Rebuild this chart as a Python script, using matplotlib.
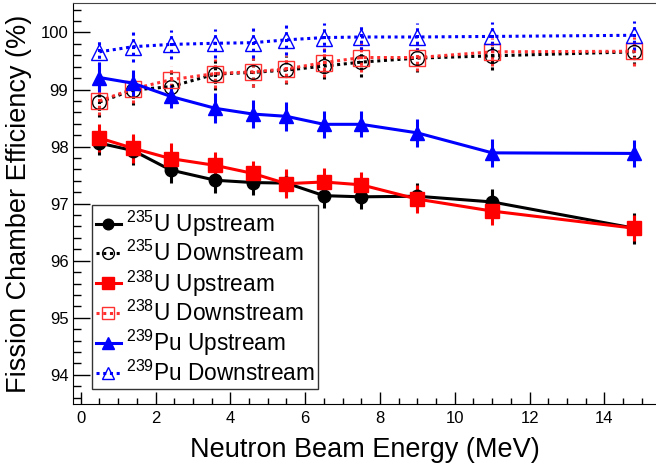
import numpy as np
import matplotlib
matplotlib.use('Agg')
import matplotlib.pyplot as plt
from matplotlib.ticker import MultipleLocator
from matplotlib.lines import Line2D

plt.rcParams['font.family'] = ['Liberation Sans', 'DejaVu Sans']
plt.rcParams['mathtext.default'] = 'regular'

# beam energies (MeV)
energy = [0.5, 1.4, 2.4, 3.6, 4.6, 5.5, 6.5, 7.5, 9.0, 11.0, 14.8]

# efficiencies (%) and errors
u235_up = [98.06, 97.93, 97.59, 97.41, 97.37, 97.36, 97.14, 97.12, 97.13, 97.03, 96.57]
u235_up_err = [0.20, 0.25, 0.23, 0.23, 0.22, 0.22, 0.22, 0.22, 0.24, 0.22, 0.27]
u235_dn = [98.78, 98.99, 99.05, 99.27, 99.30, 99.34, 99.41, 99.48, 99.55, 99.59, 99.66]
u235_dn_err = [0.27, 0.26, 0.25, 0.27, 0.25, 0.25, 0.23, 0.26, 0.25, 0.25, 0.23]
u238_up = [98.15, 97.97, 97.79, 97.67, 97.53, 97.35, 97.38, 97.33, 97.08, 96.87, 96.57]
u238_up_err = [0.25, 0.25, 0.28, 0.23, 0.22, 0.25, 0.24, 0.22, 0.25, 0.25, 0.23]
u238_dn = [98.80, 99.01, 99.17, 99.28, 99.31, 99.36, 99.47, 99.56, 99.56, 99.66, 99.67]
u238_dn_err = [0.25, 0.24, 0.24, 0.25, 0.26, 0.25, 0.25, 0.25, 0.24, 0.25, 0.25]
pu239_up = [99.21, 99.11, 98.88, 98.67, 98.57, 98.53, 98.39, 98.39, 98.24, 97.89, 97.88]
pu239_up_err = [0.25, 0.23, 0.20, 0.26, 0.25, 0.25, 0.24, 0.23, 0.24, 0.24, 0.24]
pu239_dn = [99.66, 99.75, 99.79, 99.81, 99.82, 99.87, 99.91, 99.92, 99.92, 99.93, 99.95]
pu239_dn_err = [0.23, 0.26, 0.25, 0.25, 0.27, 0.26, 0.26, 0.23, 0.24, 0.25, 0.25]

labels = [r'$^{235}$U Upstream', r'$^{235}$U Downstream',
          r'$^{238}$U Upstream', r'$^{238}$U Downstream',
          r'$^{239}$Pu Upstream', r'$^{239}$Pu Downstream']

dot = (0, (1.0, 1.2))

fig = plt.figure(figsize=(6.56, 4.67), dpi=100)
ax = fig.add_axes([0.1117, 0.1349, 0.8883, 0.858])

handles = []

def draw(y, err, color, marker, ms, filled, dashed):
    ls = dot if dashed else '-'
    mfc = color if filled else 'none'
    c = ax.errorbar(energy, y, yerr=err, color=color, ecolor=color, elinewidth=2.2,
                    lw=2.2, ls=ls, marker=marker, ms=ms, mfc=mfc, mec=color,
                    mew=1.0, capsize=0)
    if dashed:
        c[2][0].set_linestyle(dot)
    # legend entry: line + marker only, no error bar
    handles.append(Line2D([], [], color=color, lw=2.2, ls=ls, marker=marker,
                          ms=ms * 0.85, mfc=mfc, mec=color, mew=1.0))

draw(u235_up, u235_up_err, 'black', 'o', 9, True, False)
draw(u235_dn, u235_dn_err, 'black', 'o', 10, False, True)
draw(u238_up, u238_up_err, 'red', 's', 10, True, False)
draw(u238_dn, u238_dn_err, '#ff3030', 's', 11, False, True)
draw(pu239_up, pu239_up_err, 'blue', '^', 10, True, False)
draw(pu239_dn, pu239_dn_err, 'blue', '^', 11, False, True)

ax.set_xlim(-0.2, 15.38)
ax.set_ylim(93.49, 100.51)
ax.xaxis.set_major_locator(MultipleLocator(2))
ax.xaxis.set_minor_locator(MultipleLocator(0.5))
ax.yaxis.set_major_locator(MultipleLocator(1))
ax.yaxis.set_minor_locator(MultipleLocator(0.2))
ax.tick_params(axis='both', which='both', direction='in', labelsize=12, width=1)
ax.tick_params(axis='x', which='major', length=9, pad=5)
ax.tick_params(axis='x', which='minor', length=4.5)
ax.tick_params(axis='y', which='major', length=12.5, pad=3.5)
ax.tick_params(axis='y', which='minor', length=6)
ax.spines['right'].set_visible(False)
ax.spines['top'].set_color('#444444')

ax.set_xlabel('Neutron Beam Energy (MeV)', fontsize=19.5, labelpad=8)
ax.set_ylabel('Fission Chamber Efficiency (%)', fontsize=19.5, labelpad=6)

leg = ax.legend(handles, labels, loc='lower left', bbox_to_anchor=(0.0326, 0.0367),
                borderaxespad=0, fontsize=16.3, fancybox=False, frameon=True,
                edgecolor='black', handlelength=1.1, handletextpad=0.25,
                labelspacing=0.1, borderpad=0.15, numpoints=1)
leg.get_frame().set_linewidth(1.0)

fig.savefig('out.png', dpi=100)
